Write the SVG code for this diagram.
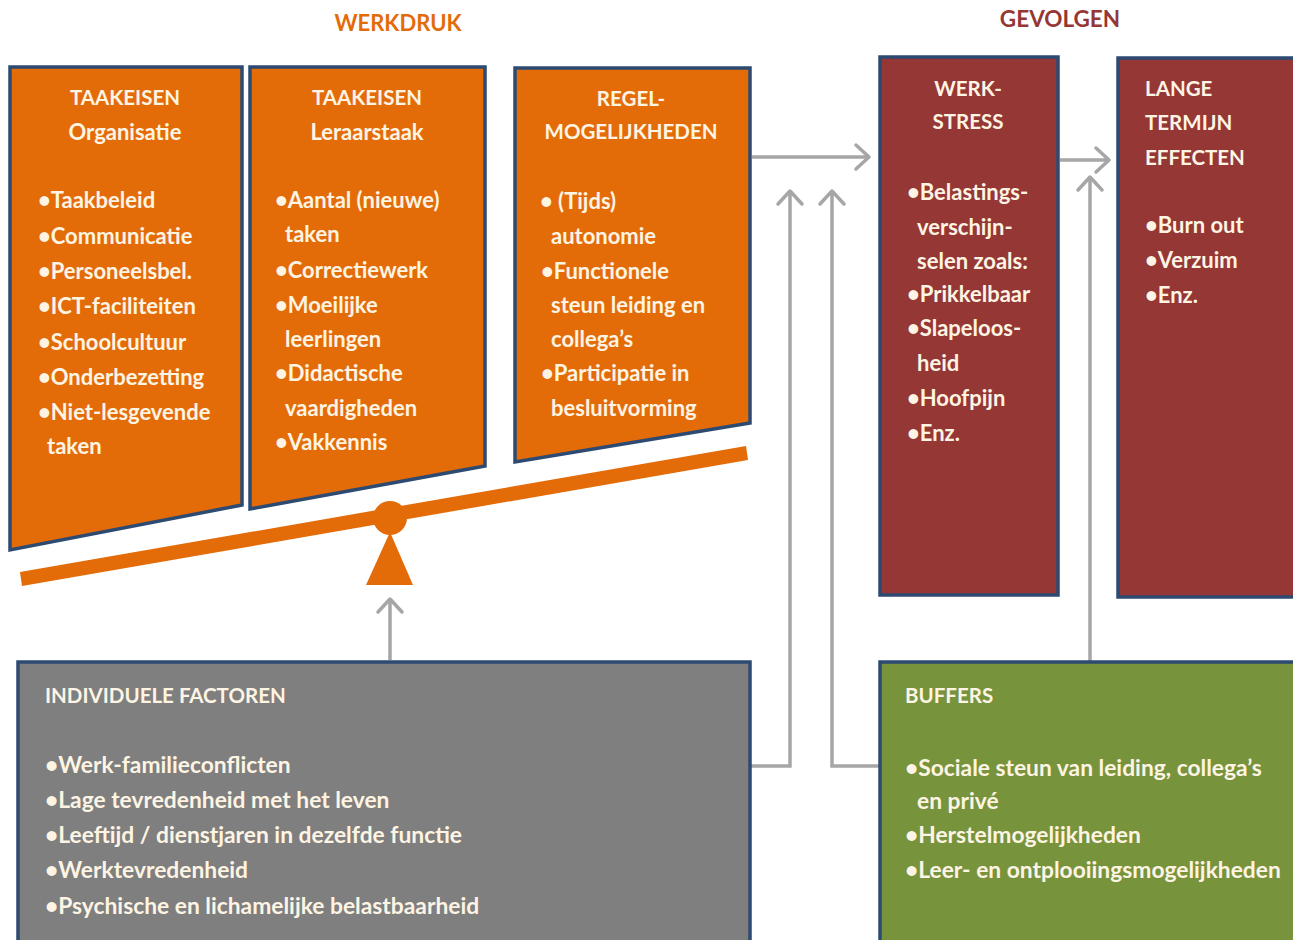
<svg xmlns="http://www.w3.org/2000/svg" width="1293" height="940" viewBox="0 0 1293 940">
<defs>
<style>
.box{stroke:#2c4a72;stroke-width:3.5;stroke-linejoin:miter}
.or{fill:#e36c09}
.rd{fill:#953735}
.gy{fill:#7f7f7f}
.gn{fill:#77933c}
text{font-family:Lato,"Liberation Sans",sans-serif;font-weight:bold;font-size:22px;fill:#fdf4e3;dominant-baseline:central}
.h{font-size:20.5px}
.w{font-size:22.8px}
.c{text-anchor:middle}
.con{fill:none;stroke:#a6a6a6;stroke-width:3.5}
.ah{fill:none;stroke:#a6a6a6;stroke-width:3.5;stroke-linecap:round;stroke-linejoin:round}
</style>
</defs>
<rect width="1293" height="940" fill="#ffffff"/>
<text x="398" y="22" class="c" style="fill:#e36c09;font-size:22px">WERKDRUK</text>
<text x="1060" y="18" class="c" style="fill:#953735;font-size:22.5px">GEVOLGEN</text>

<g id="seesaw">
<polygon points="20,572 746,446 748,460 22,586" fill="#e36c09"/>
<circle cx="390" cy="518" r="17" fill="#e36c09"/>
<polygon points="390,532 413,585 366,585" fill="#e36c09"/>
</g>

<g id="connectors">
<path class="con" d="M752,157 H868"/>
<path class="ah" d="M856,145 L869,157 L856,169"/>
<path class="con" d="M1060,160 H1108"/>
<path class="ah" d="M1096,148 L1109,160 L1096,172"/>
<path class="con" d="M750,766 H790 V192"/>
<path class="ah" d="M778,204 L790,191 L802,204"/>
<path class="con" d="M880,766 H832 V192"/>
<path class="ah" d="M820,204 L832,191 L844,204"/>
<path class="con" d="M1090,662 V178"/>
<path class="ah" d="M1078,190 L1090,177 L1102,190"/>
<path class="con" d="M390,660 V600"/>
<path class="ah" d="M378,612 L390,599 L402,612"/>
</g>

<g id="taakeisen-organisatie">
<polygon class="box or" points="10,67 242,67 242,505 10,550"/>
<text x="125" y="97" class="c h">TAAKEISEN</text>
<text x="125" y="131" class="c">Organisatie</text>
<text x="38" y="199">•Taakbeleid</text>
<text x="38" y="235">•Communicatie</text>
<text x="38" y="270">•Personeelsbel.</text>
<text x="38" y="305">•ICT-faciliteiten</text>
<text x="38" y="341">•Schoolcultuur</text>
<text x="38" y="376">•Onderbezetting</text>
<text x="38" y="411">•Niet-lesgevende</text>
<text x="47" y="445">taken</text>
</g>

<g id="taakeisen-leraarstaak">
<polygon class="box or" points="250,67 485,67 485,466 250,509"/>
<text x="367" y="97" class="c h">TAAKEISEN</text>
<text x="367" y="131" class="c">Leraarstaak</text>
<text x="275" y="199">•Aantal (nieuwe)</text>
<text x="285" y="233">taken</text>
<text x="275" y="269">•Correctiewerk</text>
<text x="275" y="304">•Moeilijke</text>
<text x="285" y="338">leerlingen</text>
<text x="275" y="372">•Didactische</text>
<text x="285" y="407">vaardigheden</text>
<text x="275" y="441">•Vakkennis</text>
</g>

<g id="regelmogelijkheden">
<polygon class="box or" points="515,68 750,68 750,423 515,462"/>
<text x="631" y="98" class="c h">REGEL-</text>
<text x="631" y="131" class="c h">MOGELIJKHEDEN</text>
<text x="540" y="200">• (Tijds)</text>
<text x="551" y="235">autonomie</text>
<text x="541" y="270">•Functionele</text>
<text x="551" y="304">steun leiding en</text>
<text x="551" y="338">collega’s</text>
<text x="541" y="372">•Participatie in</text>
<text x="551" y="407">besluitvorming</text>
</g>

<g id="werkstress">
<rect class="box rd" x="880" y="57" width="178" height="538"/>
<text x="968" y="88" class="c h">WERK-</text>
<text x="968" y="121" class="c h">STRESS</text>
<text x="907" y="191">•Belastings-</text>
<text x="917" y="226">verschijn-</text>
<text x="917" y="260">selen zoals:</text>
<text x="907" y="293">•Prikkelbaar</text>
<text x="907" y="327">•Slapeloos-</text>
<text x="917" y="362">heid</text>
<text x="907" y="397">•Hoofpijn</text>
<text x="907" y="432">•Enz.</text>
</g>

<g id="lange-termijn-effecten">
<rect class="box rd" x="1118" y="58" width="185" height="539"/>
<text x="1145" y="88" class="h">LANGE</text>
<text x="1145" y="122" class="h">TERMIJN</text>
<text x="1145" y="157" class="h">EFFECTEN</text>
<text x="1145" y="224">•Burn out</text>
<text x="1145" y="259">•Verzuim</text>
<text x="1145" y="294">•Enz.</text>
</g>

<g id="individuele-factoren">
<rect class="box gy" x="18" y="662" width="732" height="290"/>
<text x="45" y="695" class="h">INDIVIDUELE FACTOREN</text>
<text x="45" y="764" class="w">•Werk-familieconflicten</text>
<text x="45" y="799" class="w">•Lage tevredenheid met het leven</text>
<text x="45" y="834" class="w">•Leeftijd / dienstjaren in dezelfde functie</text>
<text x="45" y="869" class="w">•Werktevredenheid</text>
<text x="45" y="905" class="w">•Psychische en lichamelijke belastbaarheid</text>
</g>

<g id="buffers">
<rect class="box gn" x="880" y="662" width="430" height="290"/>
<text x="905" y="695" class="h">BUFFERS</text>
<text x="905" y="767" class="w">•Sociale steun van leiding, collega’s</text>
<text x="917" y="800" class="w">en privé</text>
<text x="905" y="834" class="w">•Herstelmogelijkheden</text>
<text x="905" y="869" class="w">•Leer- en ontplooiingsmogelijkheden</text>
</g>
</svg>
